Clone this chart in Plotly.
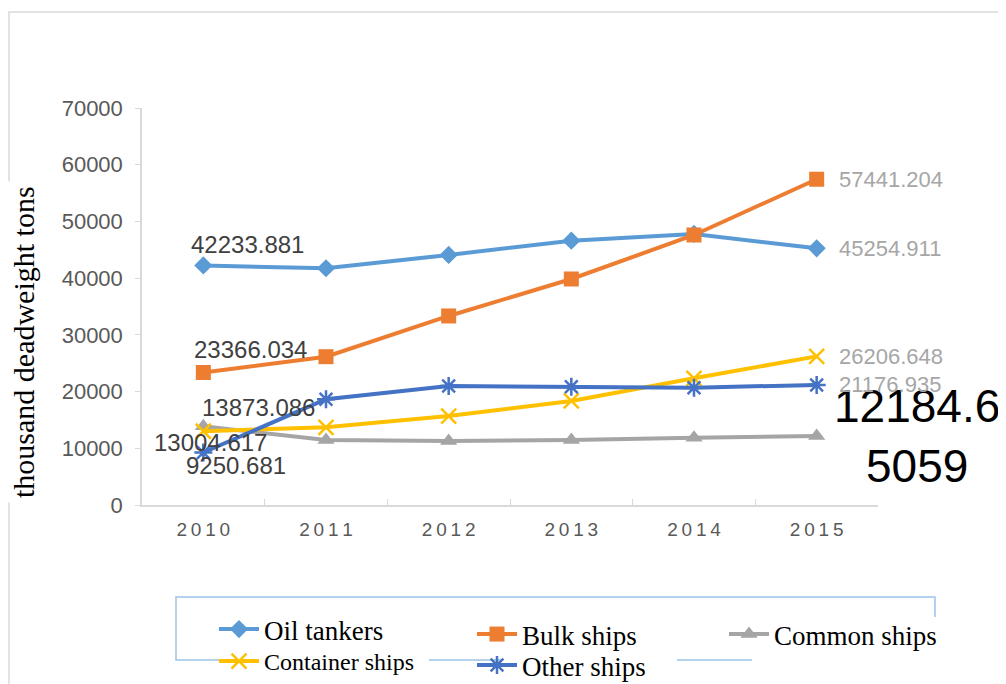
import plotly.graph_objects as go

# ---------------- data ----------------
categories = ["2010", "2011", "2012", "2013", "2014", "2015"]
oil_tankers = [42233.881, 41740, 44090, 46610, 47790, 45254.911]
bulk_ships = [23366.034, 26150, 33330, 39850, 47610, 57441.204]
common_ships = [13873.086, 11460, 11290, 11460, 11870, 12184.65059]
container_ships = [13004.617, 13700, 15690, 18340, 22340, 26206.648]
other_ships = [9250.681, 18640, 20980, 20870, 20690, 21176.935]
series_names = ["Oil tankers", "Bulk ships", "Common ships", "Container ships", "Other ships"]
y_title = "thousand deadweight tons"

# ---------------- styles ----------------
colors = ["#5B9BD5", "#ED7D31", "#A5A5A5", "#FFC000", "#4472C4"]
symbols = ["diamond", "square", "triangle-up", "x-thin-open", "asterisk-open"]
msizes = [14, 15, 15, 15, 15]
legend_ids = ["legend", "legend2", "legend3", "legend4", "legend5"]
values = [oil_tankers, bulk_ships, common_ships, container_ships, other_ships]

# page offset (body margin) and plot area in page pixels
OFF = 8
W, H = 1006 - OFF, 684 - OFF
L, R, T, B = 142, 878, 108, 505
pw, ph = R - L, B - T
px = lambda x: (x - L) / pw
py = lambda y: (B - y) / ph

fig = go.Figure()
for name, vals, c, s, ms, lg in zip(series_names, values, colors, symbols, msizes, legend_ids):
    open_sym = s.endswith("open")
    fig.add_trace(go.Scatter(
        x=categories, y=vals, name=name, mode="lines+markers",
        line=dict(color=c, width=4),
        marker=dict(symbol=s, size=ms, color=c,
                    line=dict(color=c, width=2.5 if open_sym else 0)),
        legend=lg,
    ))

# first-year labels (offsets in px)
first_offsets = [(44, 21), (47, 23), (55, 19), (7, -11), (33, -13)]
for vals, (dx, dy) in zip(values, first_offsets):
    fig.add_annotation(x=0, y=vals[0], text=str(vals[0]),
                       xshift=dx, yshift=dy, showarrow=False,
                       xanchor="center", yanchor="middle",
                       font=dict(family="Liberation Sans", size=24, color="#404040"))

# last-year labels
last = len(categories) - 1
for i, vals in enumerate(values):
    s = str(vals[-1])
    if i == 2:
        fig.add_annotation(x=last, y=vals[-1], text=s[:7] + "<br>" + s[7:],
                           xshift=100, yshift=0, showarrow=False,
                           xanchor="center", yanchor="middle",
                           font=dict(family="Liberation Sans", size=46, color="#000000"))
    else:
        fig.add_annotation(x=last, y=vals[-1], text=s,
                           xshift=20, yshift=0, showarrow=False,
                           xanchor="left", yanchor="middle",
                           font=dict(family="Liberation Sans", size=22, color="#A6A6A6"))

# y title
fig.add_annotation(xref="paper", yref="paper", x=px(23), y=py(342), text=y_title,
                   textangle=-90, showarrow=False, xanchor="center", yanchor="middle",
                   bgcolor="white", borderpad=4,
                   font=dict(family="Liberation Serif", size=30, color="#000000"))

# chart-area border and legend box
fig.add_shape(type="rect", xref="paper", yref="paper",
              x0=px(9), x1=px(1012), y0=py(12), y1=py(720),
              line=dict(color="#D9D9D9", width=1.5), layer="below")
fig.add_shape(type="rect", xref="paper", yref="paper",
              x0=px(176), x1=px(935), y0=py(597), y1=py(660),
              line=dict(color="#9DC3E6", width=1.5), layer="below")
# white patches over the legend box (as in the reference)
for x0, x1, y0, y1 in [(247, 429, 617, 700), (503, 677, 617, 700), (752, 960, 617, 663)]:
    fig.add_shape(type="rect", xref="paper", yref="paper",
                  x0=px(x0), x1=px(x1), y0=py(y0), y1=py(y1),
                  line=dict(width=0), fillcolor="white", layer="below")

def leg(xp, yp, size=27):
    return dict(x=px(xp), y=py(yp), xanchor="left", yanchor="top",
                bgcolor="rgba(0,0,0,0)", borderwidth=0, orientation="v", itemwidth=40,
                font=dict(family="Liberation Serif", size=size, color="#000000"))

fig.update_layout(
    width=W, height=H,
    paper_bgcolor="white", plot_bgcolor="white",
    margin=dict(l=L - OFF, r=W - (R - OFF), t=T - OFF, b=H - (B - OFF), autoexpand=False),
    showlegend=True,
    legend=leg(214, 605),
    legend2=leg(472, 610),
    legend3=leg(724, 610),
    legend4=leg(214, 639, 24),
    legend5=leg(472, 641),
    xaxis=dict(type="category", range=[-0.5, 5.5], showgrid=False, zeroline=False,
               showline=True, linecolor="#D9D9D9", linewidth=1.5,
               ticks="inside", tickson="boundaries", ticklen=6, tickcolor="#D9D9D9",
               tickvals=categories,
               ticktext=["\u2009".join(c) for c in categories],
               ticklabelstandoff=6,
               tickfont=dict(family="Liberation Sans", size=19, color="#595959")),
    yaxis=dict(range=[0, 70000], dtick=10000, showgrid=False, zeroline=False,
               showline=True, linecolor="#D9D9D9", linewidth=1.5,
               ticks="outside", ticklen=5, tickcolor="#D9D9D9",
               ticklabelstandoff=8, tickformat="d",
               tickfont=dict(family="Liberation Sans", size=22, color="#595959")),
)

fig.write_html("out.html")
